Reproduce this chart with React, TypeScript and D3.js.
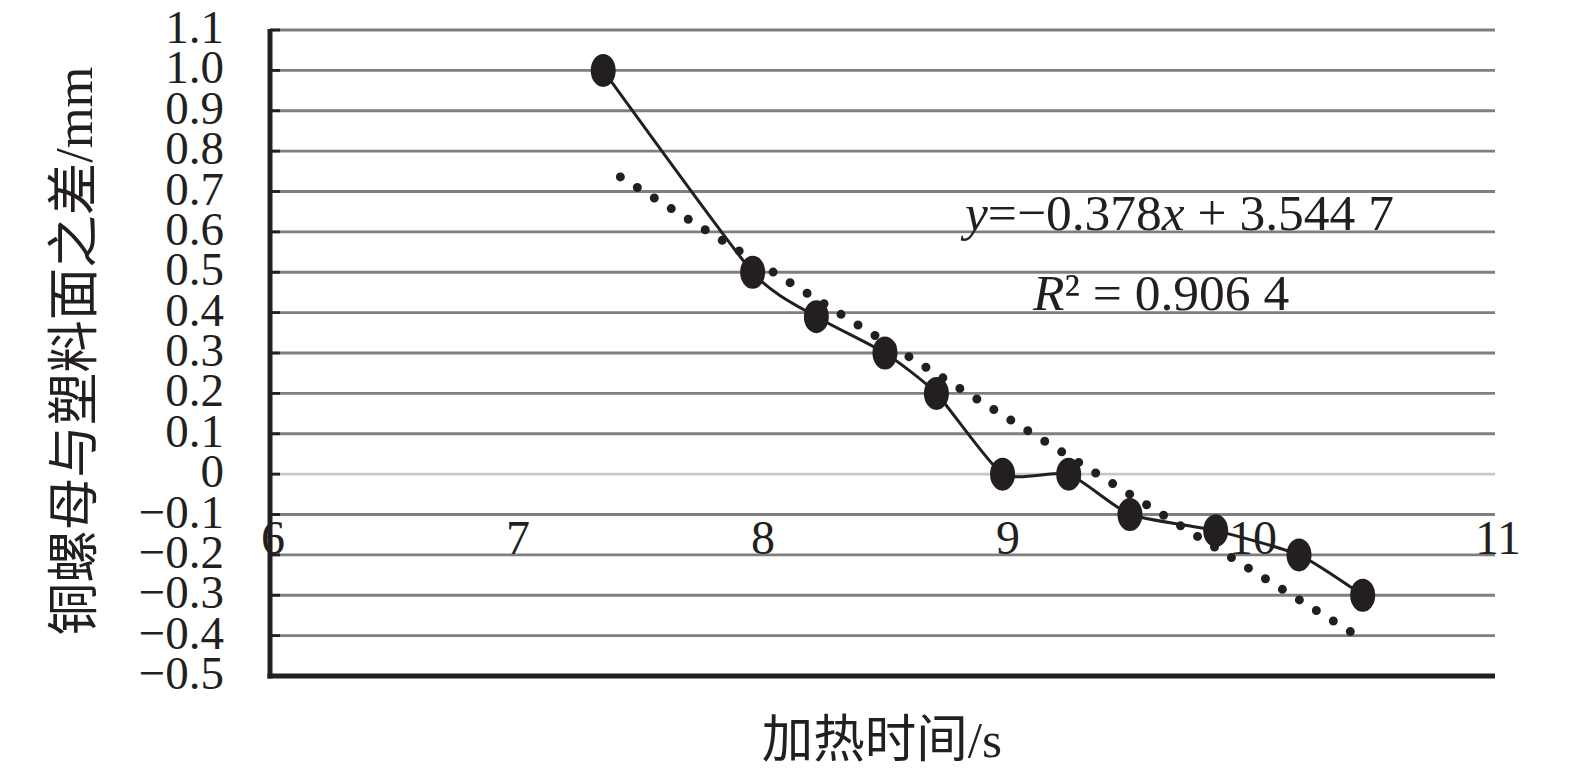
import React from "react";
import * as d3 from "d3";

// heating time (s) and copper nut / plastic surface difference (mm)
const heatTime = [7.36, 7.97, 8.23, 8.51, 8.72, 8.99, 9.26, 9.51, 9.86, 10.2, 10.46];
const diffMm = [1.0, 0.5, 0.39, 0.3, 0.2, 0, 0, -0.1, -0.14, -0.2, -0.3];

// linear trendline y = slope * x + intercept, drawn over the visible span
const trendCoef = [-0.378, 3.5447];
const trendSpan = [7.43, 10.41];

const xTicks = [6, 7, 8, 9, 10, 11];
const yTicks = [1.1, 1.0, 0.9, 0.8, 0.7, 0.6, 0.5, 0.4, 0.3, 0.2, 0.1, 0, -0.1, -0.2, -0.3, -0.4, -0.5];

const ink = "#231f20";
const serif = "'Liberation Serif', 'Times New Roman', 'Noto Sans CJK SC', serif";

const App = () => {
  const width = 1575;
  const height = 778;

  const x = d3.scaleLinear().domain([6, 11]).range([270, 1495]);
  const y = d3.scaleLinear().domain([-0.5, 1.1]).range([676, 30]);

  const points: [number, number][] = heatTime.map((t, i) => [t, diffMm[i]]);

  const line = d3
    .line<[number, number]>()
    .x((d) => x(d[0]))
    .y((d) => y(d[1]))
    .curve(d3.curveCardinal.tension(0.45));

  const trendPts: [number, number][] = trendSpan.map((t) => [t, trendCoef[0] * t + trendCoef[1]]);
  const trendLine = d3
    .line<[number, number]>()
    .x((d) => x(d[0]))
    .y((d) => y(d[1]));

  const fmt = (v: number) => {
    if (v === 0) return "0";
    const s = Math.abs(v).toFixed(1);
    return v < 0 ? "\u2212" + s : s;
  };

  return (
    <svg
      width={width}
      height={height}
      style={{ position: "absolute", left: 0, top: 0, background: "#fff" }}
    >
      {/* gridlines */}
      {yTicks
        .filter((v) => v !== -0.5)
        .map((v) => (
          <line
            key={"g" + v}
            x1={x(6)}
            x2={x(11)}
            y1={y(v)}
            y2={y(v)}
            stroke={v === 0 ? "#c8c8c8" : "#7f7f7f"}
            strokeWidth={2.8}
          />
        ))}

      {/* y axis ticks */}
      {yTicks.map((v) => (
        <line key={"t" + v} x1={x(6)} x2={x(6) + 10} y1={y(v)} y2={y(v)} stroke={ink} strokeWidth={2.8} />
      ))}

      {/* axes */}
      <line x1={x(6)} x2={x(6)} y1={y(1.1) - 1} y2={y(-0.5) + 2.5} stroke={ink} strokeWidth={5} />
      <line x1={x(6) - 2.5} x2={x(11)} y1={y(-0.5)} y2={y(-0.5)} stroke={ink} strokeWidth={5} />

      {/* y tick labels */}
      {yTicks.map((v) => (
        <text
          key={"yl" + v}
          x={224}
          y={y(v) + 13}
          textAnchor="end"
          fontFamily={serif}
          fontSize={47}
          fill={ink}
        >
          {fmt(v)}
        </text>
      ))}

      {/* x tick labels */}
      {xTicks.map((v) => (
        <text
          key={"xl" + v}
          x={x(v) + 3}
          y={554}
          textAnchor="middle"
          fontFamily={serif}
          fontSize={48}
          fill={ink}
        >
          {v}
        </text>
      ))}

      {/* trendline */}
      <path
        d={trendLine(trendPts) || ""}
        fill="none"
        stroke={ink}
        strokeWidth={9}
        strokeLinecap="round"
        strokeDasharray="0 20"
      />

      {/* data line */}
      <path d={line(points) || ""} fill="none" stroke={ink} strokeWidth={3} />

      {/* markers */}
      {points.map((d, i) => (
        <ellipse key={"m" + i} cx={x(d[0])} cy={y(d[1])} rx={12.5} ry={16.5} fill={ink} />
      ))}

      {/* equation */}
      <text x={965} y={230} fontFamily={serif} fontSize={51.5} fill={ink}>
        <tspan fontStyle="italic">y</tspan>
        <tspan>=−0.378</tspan>
        <tspan fontStyle="italic">x</tspan>
        <tspan> + 3.544 7</tspan>
      </text>
      <text x={1033} y={310} fontFamily={serif} fontSize={51.5} fill={ink}>
        <tspan fontStyle="italic">R</tspan>
        <tspan>² = 0.906 4</tspan>
      </text>

      {/* axis titles */}
      <text
        x={882}
        y={757}
        textAnchor="middle"
        fontFamily={serif}
        fontSize={51.5}
        fill={ink}
      >
        加热时间/s
      </text>
      <text
        transform="translate(74,351) rotate(-90)"
        textAnchor="middle"
        dominantBaseline="central"
        fontFamily={serif}
        fontSize={52.5}
        fill={ink}
      >
        铜螺母与塑料面之差/mm
      </text>
    </svg>
  );
};

export default App;
